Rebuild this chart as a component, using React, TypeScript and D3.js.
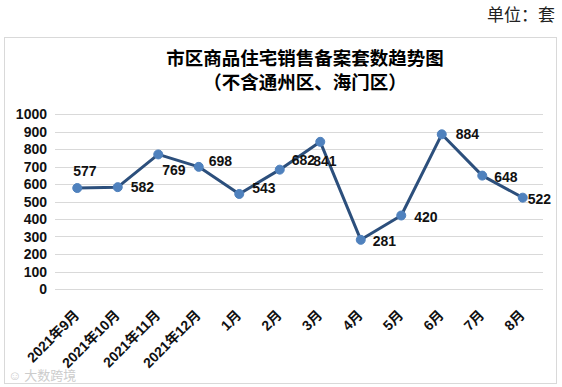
import { useEffect, useRef } from 'react';
import * as d3 from 'd3';

const months = ['2021年9月', '2021年10月', '2021年11月', '2021年12月', '1月', '2月', '3月', '4月', '5月', '6月', '7月', '8月'];
const sales = [577, 582, 769, 698, 543, 682, 841, 281, 420, 884, 648, 522];
const yTicks = [0, 100, 200, 300, 400, 500, 600, 700, 800, 900, 1000];
// label offsets from the point (dx to text start, dy to baseline)
const labelOffsets: [number, number][] = [
  [-4, -12], [13, 5], [4, 21], [10, -1], [13, -1], [12, -5], [-7, 24], [12, 6], [13, 6], [14, 5], [12, 6], [5, 6],
];

const W = 562;
const H = 387;
const LINE = '#2C4F7C';
const MARKER = '#4F81BD';

export default function App() {
  const svgRef = useRef<SVGSVGElement>(null);

  useEffect(() => {
    if (!svgRef.current) return;
    const svg = d3.select(svgRef.current);
    svg.selectAll('*').remove();

    const margin = { left: 57, right: 19, top: 114, bottom: 98 };
    const x = d3.scaleBand<string>()
      .domain(months)
      .range([margin.left, W - margin.right])
      .padding(0);
    const y = d3.scaleLinear().domain([0, 1000]).range([H - margin.bottom, margin.top]);
    const cx = (m: string) => (x(m) || 0) + x.bandwidth() / 2;

    svg.append('rect').attr('width', W).attr('height', H).attr('fill', '#fff');

    // unit
    svg.append('text')
      .attr('x', 555).attr('y', 21)
      .attr('text-anchor', 'end')
      .style('font-family', '"Noto Sans CJK SC", sans-serif')
      .style('font-size', '17px')
      .attr('fill', '#222')
      .text('单位：套');

    // chart border
    svg.append('rect')
      .attr('x', 4.5).attr('y', 37.5)
      .attr('width', 552).attr('height', 346)
      .attr('fill', 'none')
      .attr('stroke', '#D9D9D9');

    // title
    const title = svg.append('text')
      .attr('text-anchor', 'middle')
      .style('font-family', '"Noto Sans CJK SC", sans-serif')
      .style('font-size', '18.5px')
      .style('font-weight', 'bold')
      .attr('fill', '#000');
    title.append('tspan').attr('x', 305).attr('y', 65).text('市区商品住宅销售备案套数趋势图');
    title.append('tspan').attr('x', 305).attr('y', 89).text('（不含通州区、海门区）');

    // grid
    svg.append('g')
      .selectAll('line')
      .data(yTicks)
      .join('line')
      .attr('x1', 55).attr('x2', 543)
      .attr('y1', d => Math.round(y(d)) + 0.5)
      .attr('y2', d => Math.round(y(d)) + 0.5)
      .attr('stroke', '#D9D9D9');

    // y labels
    svg.append('g')
      .selectAll('text')
      .data(yTicks)
      .join('text')
      .attr('x', 47)
      .attr('y', d => y(d) + 5)
      .attr('text-anchor', 'end')
      .style('font-family', '"Liberation Sans", Arial, sans-serif')
      .style('font-size', '14px')
      .style('font-weight', 'bold')
      .attr('fill', '#111')
      .text(d => String(d));

    // x labels
    svg.append('g')
      .selectAll('text')
      .data(months)
      .join('text')
      .attr('transform', d => `translate(${cx(d) + 3},${y(0) + 27}) rotate(-45)`)
      .attr('text-anchor', 'end')
      .style('font-family', '"Liberation Sans", "Noto Sans CJK SC", sans-serif')
      .style('font-size', '14px')
      .style('font-weight', 'bold')
      .attr('fill', '#111')
      .text(d => d);

    // line
    const data = months.map((m, i) => ({ m, v: sales[i] }));
    const line = d3.line<{ m: string; v: number }>()
      .x(d => cx(d.m))
      .y(d => y(d.v));
    svg.append('path')
      .datum(data)
      .attr('fill', 'none')
      .attr('stroke', LINE)
      .attr('stroke-width', 3)
      .attr('stroke-linejoin', 'round')
      .attr('d', line);

    svg.append('g')
      .selectAll('circle')
      .data(data)
      .join('circle')
      .attr('cx', d => cx(d.m))
      .attr('cy', d => y(d.v))
      .attr('r', 4.5)
      .attr('fill', MARKER)
      .attr('stroke', MARKER);

    // data labels
    svg.append('g')
      .selectAll('text')
      .data(data)
      .join('text')
      .attr('x', (d, i) => cx(d.m) + labelOffsets[i][0])
      .attr('y', (d, i) => y(d.v) + labelOffsets[i][1])
      .style('font-family', '"Liberation Sans", Arial, sans-serif')
      .style('font-size', '14px')
      .style('font-weight', 'bold')
      .attr('fill', '#111')
      .text(d => String(d.v));

    // watermark
    svg.append('text')
      .attr('x', 8).attr('y', 380)
      .style('font-family', '"Noto Sans CJK SC", sans-serif')
      .style('font-size', '13px')
      .attr('fill', '#ccc')
      .text('☺ 大数跨境');
  }, []);

  return (
    <div style={{ position: 'fixed', left: 0, top: 0 }}>
      <svg ref={svgRef} width={W} height={H} style={{ display: 'block' }} />
    </div>
  );
}
